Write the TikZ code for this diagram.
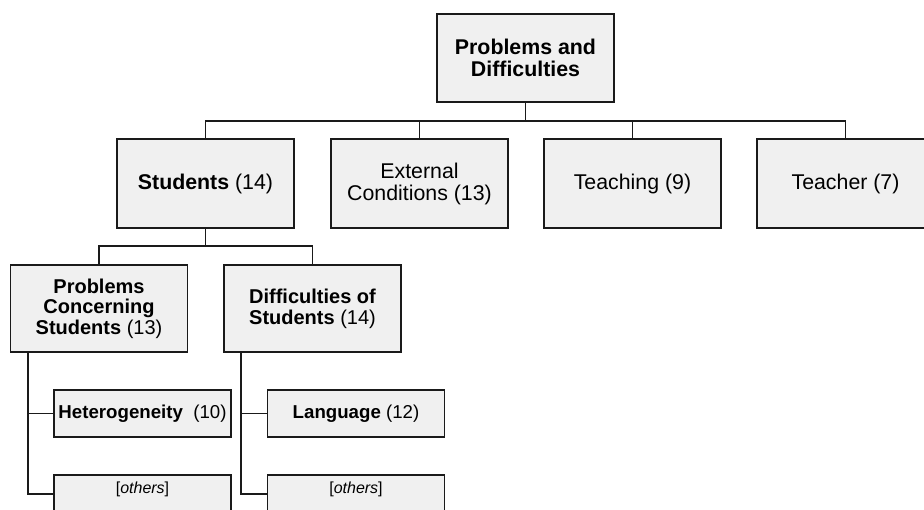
\documentclass[tikz,border=0pt]{standalone}
\usepackage{fontspec}
\setmainfont{Liberation Sans}
\definecolor{boxgray}{HTML}{F0F0F0}
\definecolor{linecol}{HTML}{1A1A1A}
\begin{document}
\begin{tikzpicture}[x=0.75pt,y=-0.75pt,
  box/.style={draw=linecol, fill=boxgray, line width=1.3pt, inner sep=0pt,
    align=center, anchor=center, text=black},
  lvlA/.style={box, minimum width=132.75pt, minimum height=66.4pt,
    font=\fontsize{16}{16.5}\selectfont},
  lvlB/.style={box, minimum width=132.75pt, minimum height=65.25pt,
    font=\fontsize{15}{15.5}\selectfont},
  lvlC/.style={box, minimum width=132.75pt, minimum height=35.25pt,
    font=\fontsize{14}{15}\selectfont},
  lvlD/.style={box, minimum width=132.75pt, anchor=north,
    text height=13.9pt, text depth=14.6pt,
    font=\fontsize{12}{13}\selectfont},
  conn/.style={draw=linecol, line width=1.3pt}]
\useasboundingbox (0,0) rectangle (924,510);
\clip (0,0) rectangle (924,510);

\node[lvlA] (top) at (525.5,58) {\textbf{Problems and}\\\textbf{Difficulties}};

\node[lvlA] (students) at (205.5,183.5) {\textbf{Students} (14)};
\node[lvlA] (external) at (419.5,183.5) {External\\Conditions (13)};
\node[lvlA] (teaching) at (632.5,183.5) {Teaching (9)};
\node[lvlA] (teacher) at (845.5,183.5) {Teacher (7)};

\node[lvlB] (pcs) at (99,308.5) {\textbf{Problems}\\\textbf{Concerning}\\\textbf{Students} (13)};
\node[lvlB] (dos) at (312.5,308.5) {\textbf{Difficulties of}\\\textbf{Students} (14)};

\node[lvlC] (het) at (142.5,413.5) {\textbf{Heterogeneity}~ (10)};
\node[lvlC] (lang) at (356,413.5) {\textbf{Language} (12)};

\node[lvlD] (oth1) at (142.5,474) {[\textit{others}]};
\node[lvlD] (oth2) at (356,474) {[\textit{others}]};

\coordinate (bar1) at (0,121);
\coordinate (bar2) at (0,246);
\coordinate (t1) at (28,0);
\coordinate (t2) at (241,0);

\draw[conn] (top.south) -- (top.south |- bar1);
\draw[conn] (students.north) -- (students.north |- bar1) -- (teacher.north |- bar1) -- (teacher.north);
\draw[conn] (external.north) -- (external.north |- bar1);
\draw[conn] (teaching.north) -- (teaching.north |- bar1);

\draw[conn] (students.south) -- (students.south |- bar2);
\draw[conn] (pcs.north) -- (pcs.north |- bar2) -- (dos.north |- bar2) -- (dos.north);

\draw[conn] (pcs.south -| t1) |- (het.west);
\draw[conn] (pcs.south -| t1) |- (oth1.west);
\draw[conn] (dos.south -| t2) |- (lang.west);
\draw[conn] (dos.south -| t2) |- (oth2.west);
\end{tikzpicture}
\end{document}
